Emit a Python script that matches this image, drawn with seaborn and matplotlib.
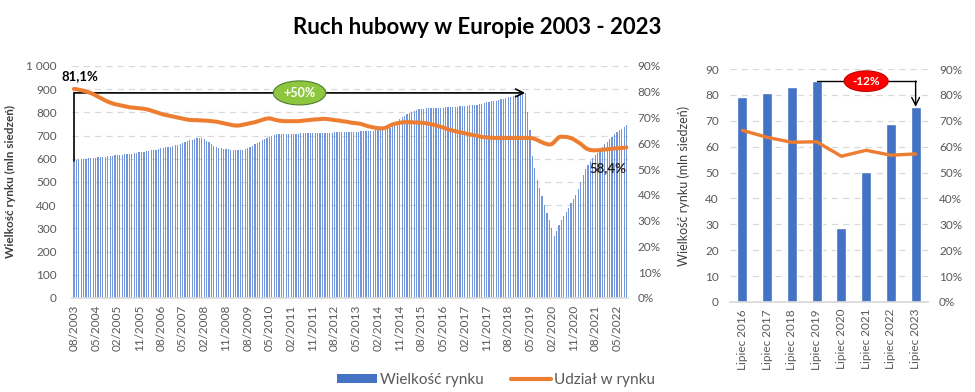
import numpy as np
import pandas as pd
import matplotlib
matplotlib.use("Agg")
import matplotlib.pyplot as plt
from matplotlib.patches import Patch
from matplotlib.lines import Line2D
from matplotlib.ticker import FuncFormatter
import seaborn as sns

# monthly series, 08/2003 .. 09/2022
market_size = [
    592, 595, 597, 599, 600,                                              # 2003
    601, 602, 603, 604, 605, 606, 607, 608, 609, 611, 612, 614,           # 2004
    615, 616, 617, 618, 619, 620, 621, 622, 624, 626, 628, 629,           # 2005
    630, 632, 634, 636, 638, 640, 643, 645, 647, 649, 651, 653,           # 2006
    655, 658, 661, 664, 667, 671, 675, 679, 683, 687, 689, 690,           # 2007
    688, 684, 678, 671, 664, 657, 651, 647, 645, 643, 642, 641,           # 2008
    640, 640, 640, 639, 639, 640, 642, 646, 651, 656, 662, 668,           # 2009
    674, 680, 686, 691, 696, 700, 703, 705, 706, 707, 707, 708,           # 2010
    708, 708, 709, 709, 709, 710, 710, 710, 711, 711, 711, 712,           # 2011
    712, 712, 712, 713, 713, 713, 713, 714, 714, 714, 714, 715,           # 2012
    715, 715, 716, 716, 717, 717, 718, 718, 719, 720, 720, 721,           # 2013
    722, 722, 723, 724, 726, 729, 734, 740, 750, 760, 771, 780,           # 2014
    786, 792, 797, 802, 806, 810, 813, 815, 816, 817, 818, 819,           # 2015
    819, 820, 820, 821, 821, 822, 822, 823, 823, 824, 825, 826,           # 2016
    827, 828, 829, 830, 831, 832, 834, 836, 838, 840, 843, 845,           # 2017
    847, 849, 851, 853, 856, 859, 862, 865, 868, 871, 874, 877,           # 2018
    880, 882, 884, 800, 725, 610, 560, 510, 472, 438, 400, 368,           # 2019
    335, 300, 266, 290, 315, 335, 355, 372, 390, 408, 428, 445,           # 2020
    470, 500, 530, 555, 575, 592, 605, 615, 625, 637, 650, 662,           # 2021
    673, 684, 695, 705, 714, 722, 730, 738, 746,                          # 2022
]

market_share = [
    81.1, 81.0, 80.8, 80.6, 80.4,
    80.1, 79.8, 79.5, 79.1, 78.6, 78.1, 77.6, 77.1, 76.6, 76.2, 75.8, 75.5,
    75.2, 75.0, 74.8, 74.6, 74.4, 74.2, 74.0, 73.9, 73.8, 73.7, 73.6, 73.5,
    73.4, 73.2, 73.0, 72.7, 72.4, 72.1, 71.8, 71.5, 71.2, 71.0, 70.8, 70.6,
    70.4, 70.2, 70.0, 69.8, 69.6, 69.4, 69.2, 69.1, 69.0, 69.0, 69.0, 68.9,
    68.9, 68.8, 68.8, 68.7, 68.6, 68.5, 68.4, 68.2, 68.0, 67.8, 67.6, 67.4,
    67.2, 67.0, 66.9, 66.9, 67.0, 67.2, 67.4, 67.6, 67.8, 68.0, 68.2, 68.5,
    68.8, 69.1, 69.4, 69.6, 69.7, 69.5, 69.2, 69.0, 68.8, 68.7, 68.6, 68.6,
    68.6, 68.6, 68.6, 68.6, 68.6, 68.7, 68.8, 68.9, 69.0, 69.1, 69.2, 69.3,
    69.3, 69.4, 69.5, 69.5, 69.4, 69.3, 69.2, 69.0, 68.9, 68.8, 68.6, 68.5,
    68.4, 68.2, 68.0, 67.9, 67.8, 67.7, 67.5, 67.2, 66.9, 66.6, 66.4, 66.2,
    66.0, 65.9, 65.8, 65.8, 66.0, 66.4, 66.9, 67.3, 67.6, 67.8, 68.0, 68.1,
    68.2, 68.2, 68.2, 68.2, 68.1, 68.1, 68.0, 68.0, 67.9, 67.8, 67.6, 67.4,
    67.2, 67.0, 66.7, 66.4, 66.1, 65.8, 65.5, 65.2, 64.9, 64.7, 64.5, 64.3,
    64.1, 63.9, 63.7, 63.5, 63.3, 63.1, 62.9, 62.7, 62.5, 62.4, 62.3, 62.2,
    62.2, 62.1, 62.1, 62.1, 62.1, 62.1, 62.1, 62.1, 62.1, 62.1, 62.1, 62.1,
    62.1, 62.1, 62.1, 62.1, 62.1, 62.0, 61.7, 61.3, 60.8, 60.4, 60.0, 59.7,
    59.5, 59.7, 60.5, 61.5, 62.4, 62.6, 62.5, 62.5, 62.3, 62.0, 61.6, 61.0,
    60.4, 59.8, 59.0, 58.2, 57.7, 57.4, 57.3, 57.3, 57.3, 57.4, 57.5, 57.6,
    57.7, 57.8, 57.9, 58.0, 58.1, 58.1, 58.2, 58.3, 58.4,
]

months = pd.date_range("2003-08-01", periods=len(market_size), freq="MS").strftime("%m/%Y")

july_labels = ["Lipiec 2016", "Lipiec 2017", "Lipiec 2018", "Lipiec 2019",
               "Lipiec 2020", "Lipiec 2021", "Lipiec 2022", "Lipiec 2023"]
july_size = [79.3, 80.8, 82.9, 85.3, 28.5, 50.4, 68.6, 75.4]
july_share = [66.3, 63.6, 61.7, 61.9, 56.3, 58.6, 56.7, 57.2]

BLUE = "#4472C4"
LIGHT_BLUE = "#7396da"
ORANGE = "#ED7D31"
GREY = "#595959"
GRID = "#d9d9d9"

sns.set_theme(style="white")
plt.rcParams["font.family"] = ["Lato", "DejaVu Sans"]

fig = plt.figure(figsize=(9.75, 3.92), dpi=100)

# ---------------- left chart ----------------
ax = fig.add_axes([72 / 975, 94 / 392, 556 / 975, 232 / 392])
df = pd.DataFrame({"month": months, "size": market_size})
sns.barplot(data=df, x="month", y="size", color=LIGHT_BLUE, saturation=1,
            width=0.5, linewidth=0, ax=ax)
ax.set_ylim(0, 1000)
ax.set_yticks(range(0, 1001, 100))
ax.yaxis.set_major_formatter(FuncFormatter(lambda v, p: f"{v:,.0f}".replace(",", " ")))
ax.set_xticks(range(0, len(months), 9))
ax.set_xticklabels(months[::9], rotation=90)
ax.set_xlim(-0.8, len(months) - 0.4)
ax.yaxis.grid(True, linestyle=(0, (5, 4)), color=GRID, lw=0.9)
ax.set_axisbelow(True)
for s in ["left", "right", "top"]:
    ax.spines[s].set_visible(False)
ax.spines["bottom"].set_color(GRID)
ax.tick_params(axis="y", length=0, pad=11, labelsize=8.5, labelcolor=GREY)
ax.tick_params(axis="x", length=0, pad=5, labelsize=8.5, labelcolor=GREY)
ax.set_xlabel("")
ax.set_ylabel("Wielkość rynku (mln siedzeń)", fontsize=8.5, fontweight="bold", color="#404040")
ax.yaxis.set_label_coords(-0.1, 0.5)

ax2 = ax.twinx()
sns.lineplot(x=np.arange(len(market_share)), y=market_share, color=ORANGE, lw=2.9, ax=ax2)
ax2.set_ylim(0, 90)
ax2.set_yticks(range(0, 91, 10))
ax2.yaxis.set_major_formatter(FuncFormatter(lambda v, p: f"{v:.0f}%"))
ax2.tick_params(axis="y", length=0, pad=7, labelsize=8.5, labelcolor=GREY)
ax2.grid(False)
for s in ax2.spines.values():
    s.set_visible(False)
ax2.set_ylabel("")
ax2.set_xlim(-0.8, len(months) - 0.4)

# +50% annotation
start_val = market_size[0]
peak_idx = int(np.argmax(market_size))
peak_val = market_size[peak_idx]
ax.plot([0, 0], [start_val, peak_val], color="black", lw=1.2)
ax.annotate("", xy=(peak_idx, peak_val), xytext=(0, peak_val),
            arrowprops=dict(arrowstyle="->", color="black", lw=1.2,
                            shrinkA=0, shrinkB=0, mutation_scale=14))
ax.text(peak_idx / 2, peak_val, "+50%", ha="center", va="center", color="white",
        fontsize=9, fontweight="bold",
        bbox=dict(boxstyle="ellipse,pad=0.2", fc="#8DC63F", ec="#507E32", lw=0.8))

ax2.annotate(f"{market_share[0]:.1f}%".replace(".", ","), xy=(0, market_share[0]),
             xytext=(4, 9.5), textcoords="offset points", ha="center", va="center",
             fontsize=9.5, fontweight="bold", color="black")
ax2.annotate(f"{market_share[-1]:.1f}%".replace(".", ","),
             xy=(len(market_share) - 1, market_share[-1]),
             xytext=(0, -15), textcoords="offset points", ha="right", va="center",
             fontsize=9.5, fontweight="bold", color="#222222")

# ---------------- right chart ----------------
axr = fig.add_axes([730 / 975, 90 / 392, 198 / 975, 233 / 392])
sns.barplot(x=july_labels, y=july_size, color=BLUE, saturation=1, width=0.4, ax=axr)
axr.set_ylim(0, 90)
axr.set_yticks(range(0, 91, 10))
axr.set_xlim(-0.5, len(july_labels) - 0.5)
axr.tick_params(axis="x", rotation=90, length=0, pad=5, labelsize=8.5, labelcolor=GREY)
axr.tick_params(axis="y", length=0, pad=8, labelsize=8.5, labelcolor=GREY)
axr.yaxis.grid(True, linestyle=(0, (5, 4)), color=GRID, lw=0.9)
axr.set_axisbelow(True)
for s in ["left", "right", "top"]:
    axr.spines[s].set_visible(False)
axr.spines["bottom"].set_color(GRID)
axr.set_ylabel("Wielkość rynku (mln siedzeń)", fontsize=9, color="#404040")
axr.yaxis.set_label_coords(-0.2, 0.5)

axr2 = axr.twinx()
sns.lineplot(x=np.arange(len(july_share)), y=july_share, color=ORANGE, lw=2.4, ax=axr2)
axr2.set_ylim(0, 90)
axr2.set_yticks(range(0, 91, 10))
axr2.yaxis.set_major_formatter(FuncFormatter(lambda v, p: f"{v:.0f}%"))
axr2.tick_params(axis="y", length=0, pad=8, labelsize=8.5, labelcolor=GREY)
axr2.grid(False)
for s in axr2.spines.values():
    s.set_visible(False)
axr2.set_ylabel("")
axr2.set_xlim(-0.5, len(july_labels) - 0.5)

# -12% annotation
top_idx = int(np.argmax(july_size))
last_idx = len(july_size) - 1
top_val = july_size[top_idx]
axr.plot([top_idx, last_idx], [top_val, top_val], color="black", lw=1.0)
axr.annotate("", xy=(last_idx, july_size[last_idx]), xytext=(last_idx, top_val),
             arrowprops=dict(arrowstyle="->", color="black", lw=1.0,
                             shrinkA=0, shrinkB=0, mutation_scale=14))
axr.text((top_idx + last_idx) / 2, top_val, "-12%", ha="center", va="center", color="white",
         fontsize=8.5, fontweight="bold",
         bbox=dict(boxstyle="ellipse,pad=0.15", fc="#FF0000", ec="#C00000", lw=0.8))

# ---------------- title & legend ----------------
fig.suptitle("Ruch hubowy w Europie 2003 - 2023", x=0.489, y=0.93,
             fontsize=16, fontweight="bold", color="black", va="center")

handles = [Patch(facecolor=BLUE, edgecolor="none"), Line2D([0], [0], color=ORANGE, lw=3)]
fig.legend(handles, ["Wielkość rynku", "Udział w rynku"], loc="center",
           bbox_to_anchor=(496 / 975, 12 / 392), ncol=2, frameon=False,
           fontsize=11, labelcolor=GREY, handlelength=2.6, handleheight=0.5,
           columnspacing=1.8, handletextpad=0.2)

fig.savefig("out.png", dpi=100)
